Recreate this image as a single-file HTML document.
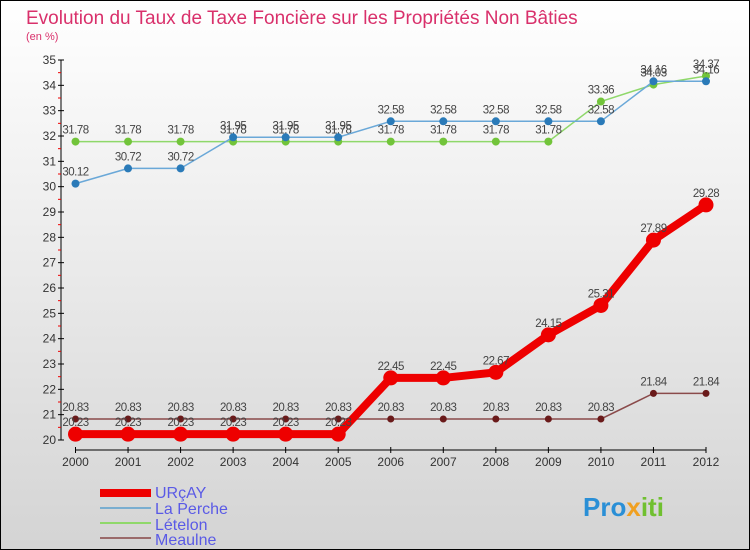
<!DOCTYPE html>
<html><head><meta charset="utf-8"><style>
body{margin:0;width:750px;height:550px;overflow:hidden;font-family:"Liberation Sans",sans-serif}
#wrap{position:absolute;left:0;top:0;width:748px;height:548px;border:1px solid #000;background:linear-gradient(#fff,#d4d4d4)}
</style></head><body>
<div id="wrap">
<svg id="chart" width="750" height="550" style="position:absolute;left:-1px;top:-1px">
<text x="26" y="24" font-size="19" fill="#d9306b">Evolution du Taux de Taxe Foncière sur les Propriétés Non Bâties</text>
<text x="26" y="40" font-size="11" fill="#d9306b">(en %)</text>
<g id="axes"></g><g id="series"></g>
<g>
<rect x="100" y="489" width="51" height="8" fill="#e00"/>
<text x="155" y="498" font-size="16" fill="#5a5ae6">URçAY</text>
<rect x="100" y="507" width="51" height="2" fill="#7aaed0"/>
<text x="155" y="514" font-size="16" fill="#5a5ae6">La Perche</text>
<rect x="100" y="522" width="51" height="2" fill="#8fd86a"/>
<text x="155" y="530" font-size="16" fill="#5a5ae6">Lételon</text>
<rect x="100" y="537" width="51" height="2" fill="#9a6a6a"/>
<text x="155" y="545" font-size="16" fill="#5a5ae6">Meaulne</text>
</g>
<text x="583" y="516" font-size="26" font-weight="bold" fill="#2a8fd6">Pro<tspan fill="#f0a020">x</tspan><tspan fill="#70c030">iti</tspan></text>
</svg></div>
<script>
const years=[2000,2001,2002,2003,2004,2005,2006,2007,2008,2009,2010,2011,2012];
const urcay=[20.23,20.23,20.23,20.23,20.23,20.23,22.45,22.45,22.67,24.15,25.31,27.89,29.28];
const laPerche=[30.12,30.72,30.72,31.95,31.95,31.95,32.58,32.58,32.58,32.58,32.58,34.16,34.16];
const letelon=[31.78,31.78,31.78,31.78,31.78,31.78,31.78,31.78,31.78,31.78,33.36,34.03,34.37];
const meaulne=[20.83,20.83,20.83,20.83,20.83,20.83,20.83,20.83,20.83,20.83,20.83,21.84,21.84];
const yTicks=[20,21,22,23,24,25,26,27,28,29,30,31,32,33,34,35];
const NS="http://www.w3.org/2000/svg";
const xs=i=>75.5+i*(630.5/(years.length-1));
const ys=v=>440-(v-20)*(380/15);
function mk(t,a,p){const e=document.createElementNS(NS,t);for(const k in a)e.setAttribute(k,a[k]);p.appendChild(e);return e;}
const ax=document.getElementById('axes');
const yl=mk('line',{x1:61,y1:ys(35),x2:61,y2:ys(20),stroke:'#000'},ax);


yTicks.forEach(v=>{
  mk('line',{x1:58,x2:64,y1:ys(v),y2:ys(v),stroke:'#000'},ax);
  if(v<35)mk('line',{x1:58,x2:61,y1:ys(v+0.5),y2:ys(v+0.5),stroke:'#e00'},ax);
  const t=mk('text',{x:56,y:ys(v)+4,'font-size':12,'text-anchor':'end',fill:'#333'},ax);t.textContent=v;
  
  
});
const xl=mk('line',{x1:xs(0),x2:xs(years.length-1),y1:450,y2:450,stroke:'#000'},ax);


years.forEach((y,i)=>{
  mk('line',{x1:xs(i),x2:xs(i),y1:447,y2:453,stroke:'#000'},ax);
  const t=mk('text',{x:xs(i),y:466,'font-size':12,'text-anchor':'middle',fill:'#333'},ax);t.textContent=y;
  
  
});
const sg=document.getElementById('series');
function series(data,name,color,w,r,dot){
  const g=mk('g',{},sg);
  
  
  mk('polyline',{points:data.map((v,i)=>xs(i)+','+ys(v)).join(' '),fill:'none',stroke:color,'stroke-width':w},g);
  data.forEach((v,i)=>{
    const c=mk('circle',{cx:xs(i),cy:ys(v),r:r,fill:dot},g);
    
    
    const t=mk('text',{x:xs(i),y:ys(v)-8,'font-size':11.5,'text-anchor':'middle',fill:'#444','letter-spacing':'-0.5'},g);
    t.textContent=v.toFixed(2).replace(/0$/,'').replace(/\.$/,'');
    
    
  });
}
series(meaulne,'meaulne','#8a4a4a',1.5,3.5,'#6a1a1a');
series(letelon,'letelon','#8fd86a',1.5,4,'#72c43a');
series(laPerche,'la-perche','#6aa8d8',1.5,4,'#2a7ab8');
series(urcay,'urcay','#e00',8,7.5,'#e00');
</script>
</body></html>
